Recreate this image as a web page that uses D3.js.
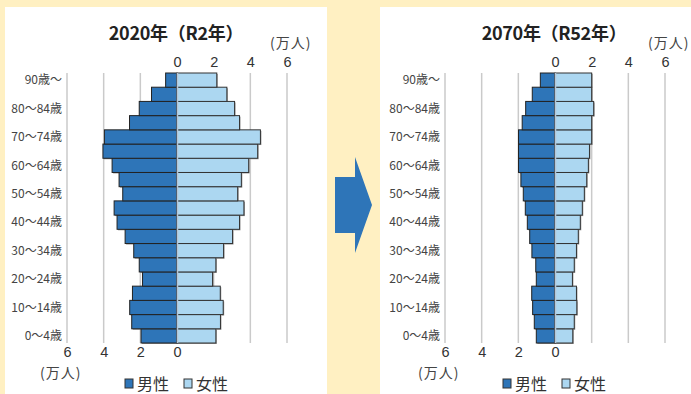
<!DOCTYPE html>
<html>
<head>
<meta charset="utf-8">
<script src="https://cdn.jsdelivr.net/npm/d3@7"></script>
<style>
  body { margin: 0; background: #fff0c2; }
  svg { display: block; font-family: "Noto Sans CJK JP", "Noto Sans", sans-serif; }
</style>
</head>
<body>
<svg width="691" height="394"></svg>
<script>
// age groups, bottom to top
const ages = ['0～4歳', '5～9歳', '10～14歳', '15～19歳', '20～24歳', '25～29歳', '30～34歳',
    '35～39歳', '40～44歳', '45～49歳', '50～54歳', '55～59歳', '60～64歳', '65～69歳',
    '70～74歳', '75～79歳', '80～84歳', '85～89歳', '90歳～'];

// 万人
const male2020 = [1.96, 2.47, 2.58, 2.43, 1.88, 2.06, 2.36, 2.83, 3.27, 3.43, 2.96, 3.16, 3.54, 4.04, 3.96, 2.59, 2.06, 1.39, 0.62];
const female2020 = [2.12, 2.37, 2.52, 2.36, 1.94, 2.12, 2.54, 3.03, 3.41, 3.65, 3.31, 3.51, 3.91, 4.40, 4.55, 3.41, 3.14, 2.72, 2.17];
const male2070 = [1.02, 1.13, 1.22, 1.27, 1.02, 1.05, 1.26, 1.38, 1.51, 1.62, 1.73, 1.86, 1.99, 1.99, 1.99, 1.79, 1.60, 1.24, 0.80];
const female2070 = [0.97, 1.05, 1.19, 1.17, 0.95, 1.05, 1.17, 1.27, 1.38, 1.49, 1.60, 1.73, 1.82, 1.88, 2.00, 2.00, 2.11, 2.00, 2.00];

const ticks = [0, 2, 4, 6];
const titles = ['2020年（R2年）', '2070年（R52年）'];
const legendLabels = ['男性', '女性'];
const unitLabel = '(万人)';

const maleColor = '#2e75b8';
const femaleColor = '#acd7f1';

let svg = d3.select('svg');

// white panels
svg.append('rect').attr('x', 5).attr('y', 7).attr('width', 322).attr('height', 394).attr('fill', '#fff');
svg.append('rect').attr('x', 380).attr('y', 7).attr('width', 320).attr('height', 394).attr('fill', '#fff');

// arrow
svg.append('path')
    .attr('d', 'M335,177 L355,177 L355,157 L372,205 L355,253 L355,233 L335,233 Z')
    .attr('fill', '#2e75b8');

let y = d3.scaleBand().domain(ages.slice().reverse()).range([73, 343]).padding(0);

function drawPyramid(cx, male, female, title) {
    let g = svg.append('g');
    let xr = d3.scaleLinear().domain([0, 6]).range([cx, cx + 110]);
    let xl = d3.scaleLinear().domain([0, 6]).range([cx, cx - 110]);

    // grid
    [2, 4, 6].forEach(function (t) {
        [xl(t), xr(t)].forEach(function (px) {
            g.append('line')
                .attr('x1', px).attr('x2', px)
                .attr('y1', 73).attr('y2', 343)
                .attr('stroke', '#cacaca').attr('stroke-width', 1.5);
        });
    });

    let rows = ages.map(function (a, i) {
        return {age: a, m: male[i], f: female[i]};
    });

    // shadows
    g.selectAll('rect.ms').data(rows).enter().append('rect')
        .attr('x', d => xl(d.m) + 1).attr('y', d => y(d.age) + 1)
        .attr('width', d => cx - xl(d.m)).attr('height', y.bandwidth())
        .attr('fill', '#999');
    g.selectAll('rect.fs').data(rows).enter().append('rect')
        .attr('x', cx + 1).attr('y', d => y(d.age) + 1)
        .attr('width', d => xr(d.f) - cx).attr('height', y.bandwidth())
        .attr('fill', '#999');

    g.selectAll('rect.m').data(rows).enter().append('rect')
        .attr('x', d => xl(d.m)).attr('y', d => y(d.age))
        .attr('width', d => cx - xl(d.m)).attr('height', y.bandwidth())
        .attr('fill', maleColor).attr('stroke', '#222').attr('stroke-width', 1);
    g.selectAll('rect.f').data(rows).enter().append('rect')
        .attr('x', cx).attr('y', d => y(d.age))
        .attr('width', d => xr(d.f) - cx).attr('height', y.bandwidth())
        .attr('fill', femaleColor).attr('stroke', '#333').attr('stroke-width', 1);

    // centre line
    g.append('line')
        .attr('x1', cx + 0.5).attr('x2', cx + 0.5)
        .attr('y1', 73).attr('y2', 343)
        .attr('stroke', '#b6c6d6').attr('stroke-width', 1.5);

    // age labels, every other one
    g.selectAll('text.age').data(ages.filter((a, i) => i % 2 === 0)).enter().append('text')
        .attr('class', 'age')
        .attr('x', xl(6) - 5).attr('y', d => y(d) + y.bandwidth() / 2)
        .attr('dy', '0.35em').attr('text-anchor', 'end')
        .attr('font-size', 12).attr('fill', '#444')
        .text(d => d);

    // top axis (women side)
    let top = g.append('g').attr('transform', 'translate(0,67)')
        .call(d3.axisTop(xr).tickValues(ticks).tickFormat(d3.format('d')).tickSize(0).tickPadding(0));
    top.select('.domain').remove();
    top.selectAll('text').attr('font-size', 14.5).attr('fill', '#333').style('font-family', 'inherit');

    // bottom axis (men side)
    let bot = g.append('g').attr('transform', 'translate(0,347)')
        .call(d3.axisBottom(xl).tickValues(ticks).tickFormat(d3.format('d')).tickSize(0).tickPadding(0));
    bot.select('.domain').remove();
    bot.selectAll('text').attr('font-size', 14.5).attr('fill', '#333').style('font-family', 'inherit');

    // title
    g.append('text')
        .attr('x', cx - 1).attr('y', 40).attr('text-anchor', 'middle')
        .attr('font-size', 18).attr('font-weight', 'bold').attr('fill', '#222')
        .attr('letter-spacing', -0.3)
        .text(title);

    g.append('text')
        .attr('x', xr(6) - 17).attr('y', 48)
        .attr('font-size', 14).attr('fill', '#444').attr('letter-spacing', 1)
        .text(unitLabel);
    g.append('text')
        .attr('x', xl(6) - 27).attr('y', 378)
        .attr('font-size', 14).attr('fill', '#444').attr('letter-spacing', 1)
        .text(unitLabel);

    // legend
    let lx = cx - 52;
    [maleColor, femaleColor].forEach(function (c, i) {
        let ox = lx + i * 59;
        g.append('rect').attr('x', ox).attr('y', 379).attr('width', 8).attr('height', 9)
            .attr('fill', c).attr('stroke', '#333').attr('stroke-width', 1);
        g.append('text').attr('x', ox + 12).attr('y', 390)
            .attr('font-size', 16).attr('fill', '#333')
            .text(legendLabels[i]);
    });
}

drawPyramid(177, male2020, female2020, titles[0]);
drawPyramid(555, male2070, female2070, titles[1]);
</script>
</body>
</html>
